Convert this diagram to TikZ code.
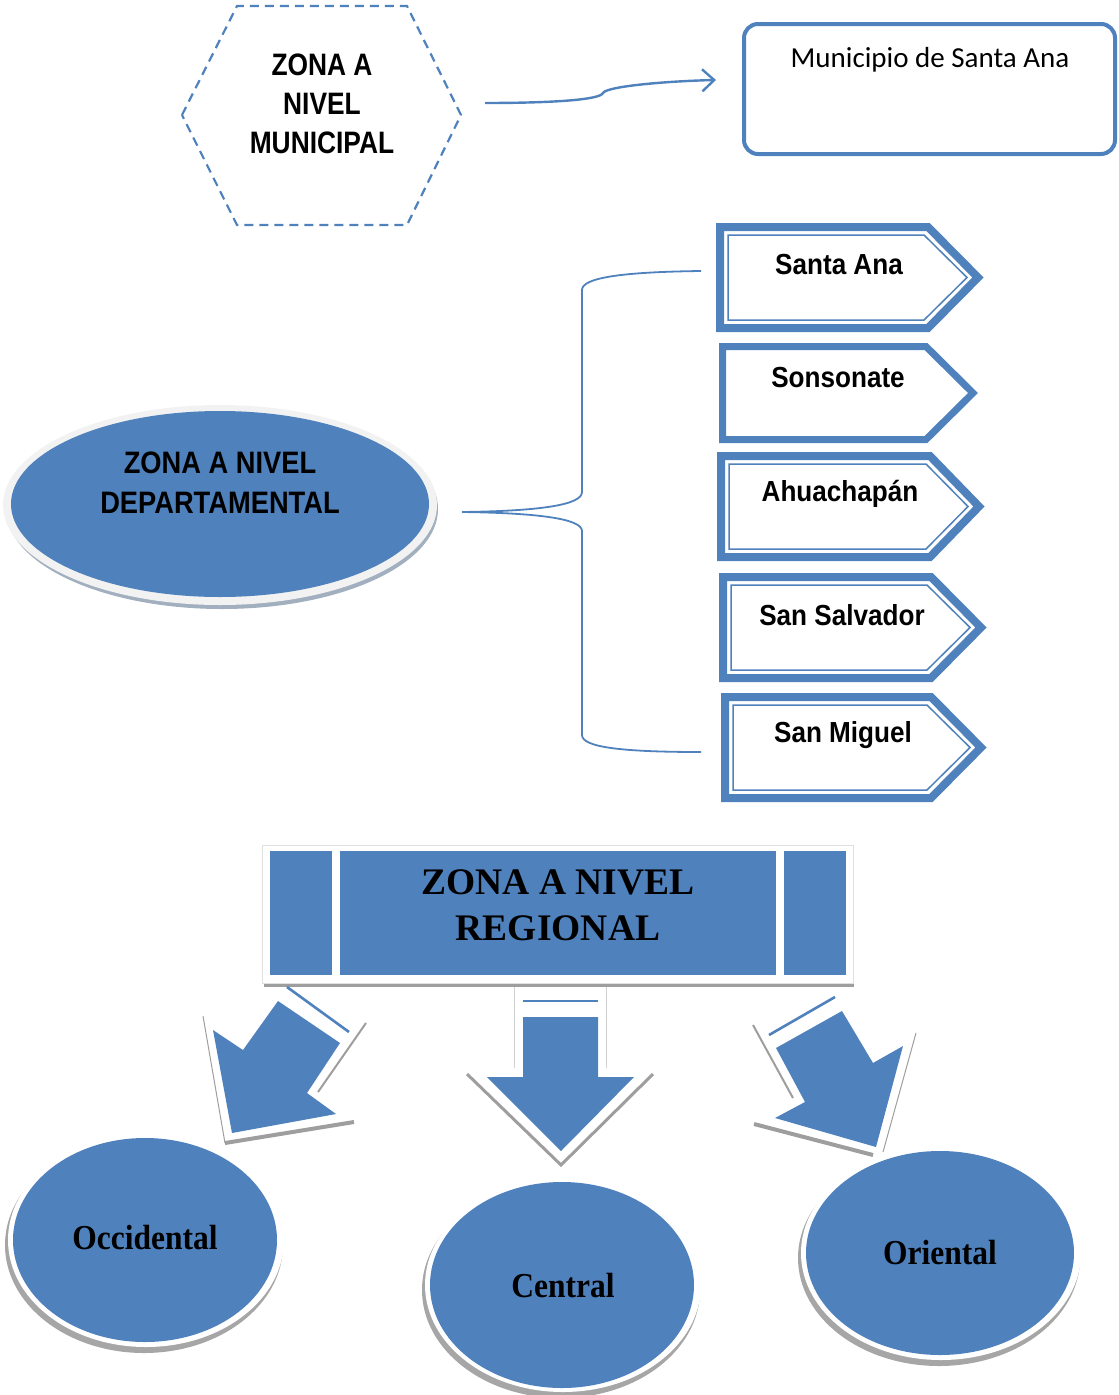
\documentclass[tikz,border=0pt]{standalone}
\usepackage{fontspec}
\setmainfont{Liberation Serif}
\newfontfamily\narrowsans{Liberation Sans}[FakeStretch=0.85]
\newfontfamily\deptsans{Liberation Sans}[FakeStretch=0.88]
\newfontfamily\signsans{Liberation Sans}[FakeStretch=0.9]
\newfontfamily\calibrisub{Carlito}
\newfontfamily\serifcond{Liberation Serif}[FakeStretch=0.9]
\usetikzlibrary{arrows.meta}
\definecolor{ofblue}{HTML}{4F81BD}

% department sign: L, T, B, corner x, tip x
\newcommand{\deptsignouter}[5]{%
  \draw[signouter] (#1+4,#2+4) -- (#4-2,#2+4) -- (#5-6,{(#2+#3)/2}) -- (#4-2,#3-4) -- (#1+4,#3-4) -- cycle;}
\newcommand{\deptsigninner}[5]{%
  \draw[signinner] (#1+12,#2+12) -- (#4-6,#2+12) -- (#5-17,{(#2+#3)/2}) -- (#4-6,#3-12) -- (#1+12,#3-12) -- cycle;}

\begin{document}
\begin{tikzpicture}[x=1pt,y=-1pt,
  signouter/.style={draw=ofblue,line width=8pt,line join=miter,fill=white},
  signinner/.style={draw=ofblue,line width=1.5pt,line join=miter},
  signtext/.style={font=\signsans\bfseries\fontsize{29}{34}\selectfont,inner sep=0pt},
  arrowbody/.style={fill=ofblue},
  blueline/.style={draw=ofblue,line width=2.6pt},
  shadowline/.style={draw=black!38,line cap=butt},
  circtext/.style={font=\serifcond\bfseries\fontsize{35}{40}\selectfont,inner sep=0pt},
]
\useasboundingbox (0,0) rectangle (1119,1395);

% ---------- municipal level ----------
\draw[ofblue,line width=2.2pt,dash pattern=on 9pt off 6pt]
  (182,115) -- (237,6) -- (407,6) -- (461,115) -- (407,225) -- (237,225) -- cycle;
\node[align=center,inner sep=0pt,font=\narrowsans\bfseries\fontsize{31}{39}\selectfont]
  (munzone) at (322,104) {ZONA A\\NIVEL\\MUNICIPAL};

\node[draw=ofblue,line width=4pt,rounded corners=14pt,minimum width=371pt,minimum height=130pt,inner sep=0pt]
  (munbox) at (929.5,89) {};
\node[font=\calibrisub\fontsize{29}{34}\selectfont,inner sep=0pt] (muntext) at (930,60) {Municipio de Santa Ana};

\coordinate (munA) at (485,103);
\coordinate (munB) at (716,80);
\draw[ofblue,line width=2.4pt,-{Straight Barb[length=12pt,width=22pt,line width=2.4pt]}]
  (munA) .. controls (550,103) and (600,100) .. (603,93)
         .. controls (607,86) and (670,81) .. (munB);

% ---------- departmental level ----------
\fill[black!40!ofblue!45] (222,509) ellipse [x radius=216pt, y radius=100pt];
\fill[black!5] (220,505) ellipse [x radius=217pt, y radius=100pt];
\fill[ofblue] (220,504) ellipse [x radius=209pt, y radius=93pt];
\node[align=center,inner sep=0pt,font=\deptsans\bfseries\fontsize{31}{40}\selectfont]
  (deptzone) at (220,483) {ZONA A NIVEL\\DEPARTAMENTAL};

% brace
\coordinate (brTip) at (462,512);
\coordinate (brTop) at (701,271);
\coordinate (brBot) at (701,752);
\draw[ofblue,line width=1.8pt]
  (brTop) .. controls (620,272) and (582,278) .. (582,290) -- (582,492)
          .. controls (582,505) and (540,511) .. (brTip);
\draw[ofblue,line width=1.8pt]
  (brTip) .. controls (540,513) and (582,519) .. (582,531) -- (582,735)
          .. controls (582,747) and (620,752) .. (brBot);

% department signs
\deptsignouter{716}{223}{332}{930}{984}\deptsigninner{716}{223}{332}{930}{984}
\node[signtext] (dSantaAna) at (839,265) {Santa Ana};
\draw[ofblue,line width=7pt,line join=miter,fill=white]
  (722.5,346.5) -- (926,346.5) -- (973,393) -- (926,439.5) -- (722.5,439.5) -- cycle;
\node[signtext] (dSonsonate) at (838,378) {Sonsonate};
\deptsignouter{717}{452}{561}{932}{985}\deptsigninner{717}{452}{561}{932}{985}
\node[signtext] (dAhuachapan) at (840,494) {Ahuachapán};
\deptsignouter{719}{573}{682}{933}{987}\deptsigninner{719}{573}{682}{933}{987}
\node[signtext] (dSanSalvador) at (842,615) {San Salvador};
\deptsignouter{721}{693}{802}{933}{987}\deptsigninner{721}{693}{802}{933}{987}
\node[signtext] (dSanMiguel) at (843,735) {San Miguel};

% ---------- regional level ----------
\fill[black!38] (264,976) rectangle (854,987);
\filldraw[fill=white,draw=black!12,line width=0.8pt] (262,845) rectangle (853,983);
\fill[ofblue] (270,851) rectangle (332,975);
\fill[ofblue] (340,851) rectangle (776,975);
\fill[ofblue] (784,851) rectangle (846,975);
\node[align=center,inner sep=0pt,font=\bfseries\fontsize{37.5}{46}\selectfont]
  (regzone) at (558,905) {ZONA A NIVEL\\REGIONAL};

% left arrow
\draw[shadowline,line width=1pt] (203,1016) -- (225,1143);
\draw[shadowline,line width=4pt] (225,1143) -- (354,1122);
\draw[shadowline,line width=2pt] (366,1023) -- (318,1092);
\draw[blueline] (287,987) -- (349,1032);
\fill[arrowbody] (278,1001) -- (340,1043) -- (307,1093) -- (336,1114) -- (232,1133) -- (213,1030) -- (243,1050) -- cycle;

% central arrow
\draw[black!18,line width=0.8pt] (514,987) -- (514,1068);
\draw[black!18,line width=0.8pt] (606,987) -- (606,1068);
\draw[shadowline,line width=3pt,line join=miter] (467,1074) -- (561,1165) -- (653,1074);
\draw[blueline] (523,1001) -- (598,1001);
\fill[arrowbody] (523,1017) -- (598,1017) -- (598,1077) -- (634,1077) -- (561,1151) -- (487,1077) -- (523,1077) -- cycle;

% right arrow
\draw[shadowline,line width=2pt] (753,1025) -- (793,1098);
\draw[shadowline,line width=4pt] (754,1124) -- (873,1155);
\draw[shadowline,line width=1pt] (916,1033) -- (883,1152);
\draw[blueline] (769,1035) -- (835,997);
\fill[arrowbody] (776,1048) -- (842,1011) -- (873,1063) -- (903,1046) -- (876,1147) -- (775,1118) -- (805,1102) -- cycle;

% regions
\fill[black!35] (144,1245) ellipse [x radius=139pt, y radius=108pt];
\fill[white] (146,1240) ellipse [x radius=138pt, y radius=107pt];
\fill[ofblue] (145,1240) ellipse [x radius=132pt, y radius=102pt];
\node[circtext] (rOcc) at (145,1238) {Occidental};

\fill[black!35] (561,1290) ellipse [x radius=139pt, y radius=108pt];
\fill[white] (563,1285) ellipse [x radius=138pt, y radius=107pt];
\fill[ofblue] (562,1285) ellipse [x radius=132pt, y radius=103pt];
\node[circtext] (rCen) at (563,1286) {Central};

\fill[black!35] (939,1258) ellipse [x radius=141pt, y radius=108pt];
\fill[white] (941,1253) ellipse [x radius=140pt, y radius=107pt];
\fill[ofblue] (940,1253) ellipse [x radius=134pt, y radius=102pt];
\node[circtext] (rOri) at (940,1253) {Oriental};
\end{tikzpicture}
\end{document}
